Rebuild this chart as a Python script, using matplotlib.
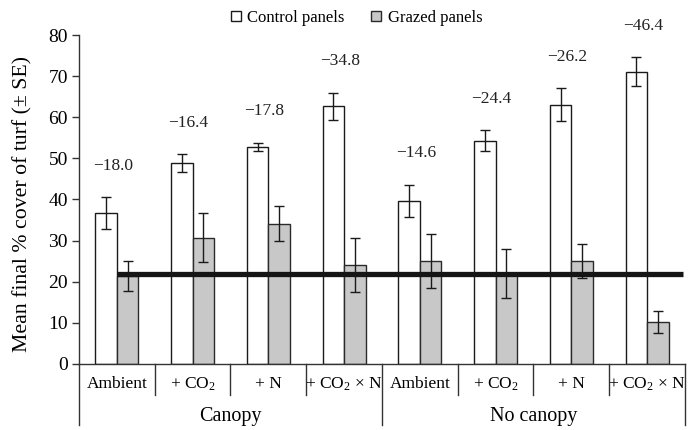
import matplotlib
matplotlib.use("Agg")
import matplotlib.pyplot as plt
import numpy as np

plt.rcParams['font.family'] = ['Liberation Serif', 'DejaVu Serif']
plt.rcParams['mathtext.fontset'] = 'custom'
plt.rcParams['mathtext.rm'] = 'Liberation Serif'
plt.rcParams['mathtext.default'] = 'regular'

treatments = ["Ambient", "+ CO$_2$", "+ N", "+ CO$_2$ × N"]
groups = ["Canopy", "No canopy"]
control = [36.7, 48.9, 52.8, 62.7, 39.7, 54.3, 63.1, 71.1]
control_se = [3.9, 2.2, 1.0, 3.3, 3.9, 2.6, 4.0, 3.5]
grazed = [21.4, 30.7, 34.1, 24.1, 25.1, 22.0, 25.1, 10.3]
grazed_se = [3.6, 6.0, 4.3, 6.6, 6.5, 5.9, 4.2, 2.7]
diff_labels = ["−18.0", "−16.4", "−17.8", "−34.8", "−14.6", "−24.4", "−26.2", "−46.4"]
ref_line = 22.0
yticks = [0, 10, 20, 30, 40, 50, 60, 70, 80]

fig = plt.figure(figsize=(6.94, 4.30), dpi=100)
ax = fig.add_axes([0.1138, 0.1535, 0.8732, 0.7651])

n = len(control)
x = np.arange(n)
w = 0.285
ax.bar(x - w / 2, control, w, color='white', edgecolor='#1a1a1a', linewidth=1.0,
       label='Control panels', zorder=2)
ax.bar(x + w / 2, grazed, w, color='#c8c8c8', edgecolor='#2a2a2a', linewidth=1.0,
       label='Grazed panels', zorder=2)
ax.errorbar(x - w / 2, control, yerr=control_se, fmt='none', ecolor='#1a1a1a',
            elinewidth=1.0, capsize=3.5, capthick=1.0, zorder=3)
ax.errorbar(x + w / 2, grazed, yerr=grazed_se, fmt='none', ecolor='#1a1a1a',
            elinewidth=1.0, capsize=3.5, capthick=1.0, zorder=3)

ax.plot([0, n - 0.52], [ref_line, ref_line], color='#151515', linewidth=3.8,
        solid_capstyle='butt', zorder=4)

for i, lab in enumerate(diff_labels):
    top = control[i] + control_se[i]
    ax.text(x[i] - w / 2 + 0.09, top + 7.6, lab, ha='center', va='center',
            fontsize=12.5, color='#222222')

ax.set_xlim(-0.5, n - 0.5)
ax.set_ylim(0, 80)
ax.set_yticks(yticks)
ax.tick_params(axis='y', labelsize=14, length=5, width=1, direction='out',
               color='#333333', pad=3)
ax.tick_params(axis='x', bottom=False, labelbottom=False)
for s in ['top', 'right']:
    ax.spines[s].set_visible(False)
ax.spines['left'].set_color('#333333')
ax.spines['bottom'].set_color('#333333')
ax.spines['left'].set_linewidth(1.0)
ax.spines['bottom'].set_linewidth(1.0)
ax.set_ylabel("Mean final % cover of turf (± SE)", fontsize=15.7)
ax.yaxis.set_label_coords(-0.077, 0.485)

trans = ax.get_xaxis_transform()
for i in range(n):
    ax.text(x[i], -0.061, treatments[i % 4], transform=trans, ha='center',
            va='center', fontsize=12.5)
for b in np.arange(-0.5, n, 1.0):
    idx = int(b + 0.5)
    bottom = -0.185 if idx % 4 == 0 else -0.094
    ax.plot([b, b], [0, bottom], transform=trans, color='#333333', lw=1.0,
            clip_on=False)
for g, name in enumerate(groups):
    ax.text(g * 4 + 1.5, -0.161, name, transform=trans, ha='center',
            va='center', fontsize=14.5)

fig.legend(loc='center', bbox_to_anchor=(0.514, 0.958), ncol=2, frameon=False,
           fontsize=12, handlelength=0.6, handleheight=0.6, handletextpad=0.4,
           columnspacing=1.6, borderpad=0)

fig.savefig("out.png", dpi=100)
